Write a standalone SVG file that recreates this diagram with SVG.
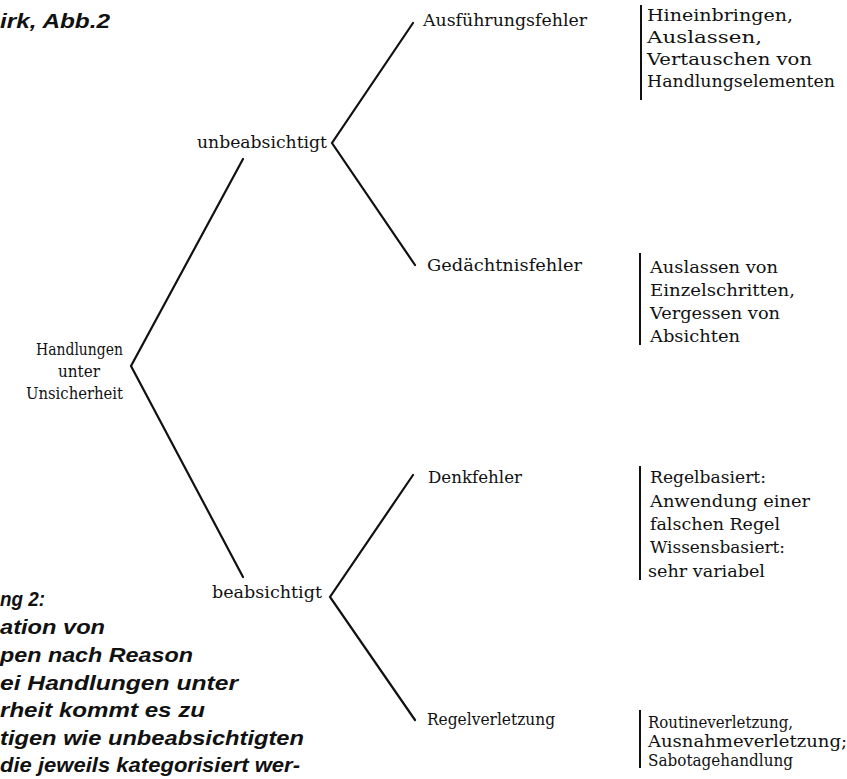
<svg xmlns="http://www.w3.org/2000/svg" width="847" height="779" viewBox="0 0 847 779">
<style>
.s{font-family:"DejaVu Serif","Liberation Serif",serif;font-size:16px;fill:#111}
.s4{font-family:"DejaVu Serif","Liberation Serif",serif;font-size:16px;fill:#111}
.c{font-family:"Liberation Sans",Arial,sans-serif;font-size:21px;font-weight:bold;font-style:italic;fill:#111}
.ln{stroke:#111;stroke-width:2.2;fill:none;stroke-linecap:round}
.bar{stroke:#111;stroke-width:2;fill:none}
</style>
<rect width="847" height="779" fill="#fff"/>
<g id="caption">
<text class="c" x="0" y="28" textLength="110" lengthAdjust="spacingAndGlyphs">irk, Abb.2</text>
<text class="c" x="0" y="606" textLength="45" lengthAdjust="spacingAndGlyphs">ng 2:</text>
<text class="c" x="0" y="634" textLength="105" lengthAdjust="spacingAndGlyphs">ation von</text>
<text class="c" x="0" y="662" textLength="193" lengthAdjust="spacingAndGlyphs">pen nach Reason</text>
<text class="c" x="0" y="690" textLength="238" lengthAdjust="spacingAndGlyphs">ei Handlungen unter</text>
<text class="c" x="0" y="717" textLength="205" lengthAdjust="spacingAndGlyphs">rheit kommt es zu</text>
<text class="c" x="0" y="745" textLength="304" lengthAdjust="spacingAndGlyphs">tigen wie unbeabsichtigten</text>
<text class="c" x="0" y="772" textLength="300" lengthAdjust="spacingAndGlyphs">die jeweils kategorisiert wer-</text>
</g>
<g id="connectors">
<polyline class="ln" points="243,159 131,366 243,577"/>
<polyline class="ln" points="413,23 332,143 415,265"/>
<polyline class="ln" points="413,475 330,597 415,720"/>
</g>
<g id="root">
<text class="s" x="36" y="355" textLength="87" lengthAdjust="spacingAndGlyphs">Handlungen</text>
<text class="s" x="58" y="377" textLength="42" lengthAdjust="spacingAndGlyphs">unter</text>
<text class="s" x="26" y="399" textLength="97" lengthAdjust="spacingAndGlyphs">Unsicherheit</text>
</g>
<g id="unbeabsichtigt">
<text class="s" x="197" y="148" textLength="130" lengthAdjust="spacingAndGlyphs">unbeabsichtigt</text>
</g>
<g id="beabsichtigt">
<text class="s" x="212" y="598" textLength="110" lengthAdjust="spacingAndGlyphs">beabsichtigt</text>
</g>
<g id="ausfuehrungsfehler">
<text class="s" x="423" y="26" textLength="164" lengthAdjust="spacingAndGlyphs">Ausführungsfehler</text>
</g>
<g id="gedaechtnisfehler">
<text class="s" x="427" y="271" textLength="155" lengthAdjust="spacingAndGlyphs">Gedächtnisfehler</text>
</g>
<g id="denkfehler">
<text class="s" x="428" y="483" textLength="94" lengthAdjust="spacingAndGlyphs">Denkfehler</text>
</g>
<g id="regelverletzung">
<text class="s" x="427" y="725" textLength="128" lengthAdjust="spacingAndGlyphs">Regelverletzung</text>
</g>
<g id="desc1">
<line class="bar" x1="641" y1="5" x2="641" y2="100"/>
<text class="s" x="647" y="21" textLength="146" lengthAdjust="spacingAndGlyphs">Hineinbringen,</text>
<text class="s" x="647" y="43" textLength="115" lengthAdjust="spacingAndGlyphs">Auslassen,</text>
<text class="s" x="647" y="65" textLength="165" lengthAdjust="spacingAndGlyphs">Vertauschen von</text>
<text class="s" x="647" y="87" textLength="188" lengthAdjust="spacingAndGlyphs">Handlungselementen</text>
</g>
<g id="desc2">
<line class="bar" x1="640" y1="253" x2="640" y2="345"/>
<text class="s" x="650" y="273" textLength="128" lengthAdjust="spacingAndGlyphs">Auslassen von</text>
<text class="s" x="650" y="296" textLength="145" lengthAdjust="spacingAndGlyphs">Einzelschritten,</text>
<text class="s" x="650" y="319" textLength="130" lengthAdjust="spacingAndGlyphs">Vergessen von</text>
<text class="s" x="650" y="342" textLength="90" lengthAdjust="spacingAndGlyphs">Absichten</text>
</g>
<g id="desc3">
<line class="bar" x1="640" y1="466" x2="640" y2="580"/>
<text class="s" x="650" y="483" textLength="116" lengthAdjust="spacingAndGlyphs">Regelbasiert:</text>
<text class="s" x="650" y="507" textLength="160" lengthAdjust="spacingAndGlyphs">Anwendung einer</text>
<text class="s" x="650" y="530" textLength="130" lengthAdjust="spacingAndGlyphs">falschen Regel</text>
<text class="s" x="650" y="553" textLength="135" lengthAdjust="spacingAndGlyphs">Wissensbasiert:</text>
<text class="s" x="648" y="577" textLength="117" lengthAdjust="spacingAndGlyphs">sehr variabel</text>
</g>
<g id="desc4">
<line class="bar" x1="640" y1="710" x2="640" y2="768"/>
<text class="s4" x="648" y="728" textLength="145" lengthAdjust="spacingAndGlyphs">Routineverletzung,</text>
<text class="s4" x="648" y="747" textLength="199" lengthAdjust="spacingAndGlyphs">Ausnahmeverletzung;</text>
<text class="s4" x="648" y="766" textLength="145" lengthAdjust="spacingAndGlyphs">Sabotagehandlung</text>
</g>
</svg>
